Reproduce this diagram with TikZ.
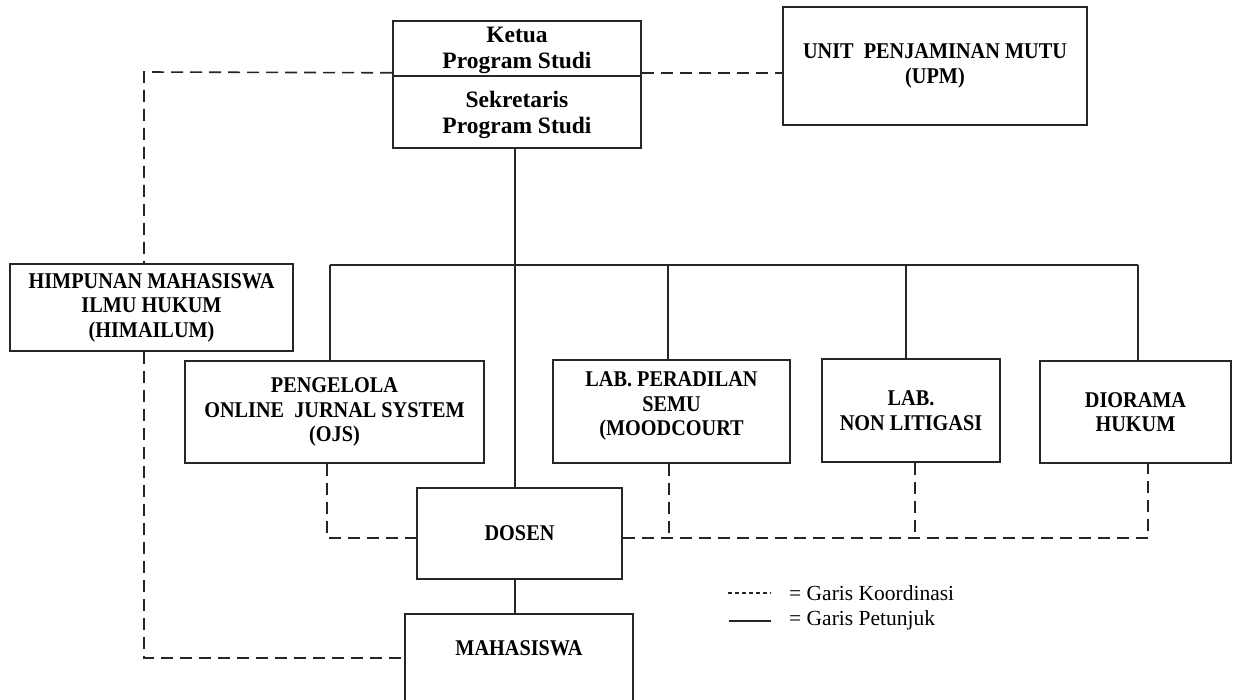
\documentclass[tikz,border=0pt]{standalone}
\usepackage{fontspec}
\setmainfont{Liberation Serif}
\newfontfamily\capsfont[FakeStretch=0.9]{Liberation Serif}
\usetikzlibrary{calc}
\tikzset{
  box/.style={draw=black!85, line width=1.6pt, fill=white, align=center, inner sep=0pt,
    font=\capsfont\bfseries\fontsize{22.5}{24.5}\selectfont},
  titletxt/.style={align=center, inner sep=0pt, font=\bfseries\fontsize{23.5}{26}\selectfont},
  conn/.style={draw=black!85, line width=1.6pt},
  coordline/.style={conn, dash pattern=on 12pt off 7pt},
  legendtxt/.style={font=\fontsize{21.5}{24}\selectfont, inner sep=0pt, anchor=west},
}
\begin{document}
\begin{tikzpicture}[x=1pt,y=-1pt]
\useasboundingbox (0,0) rectangle (1235,700);
\clip (0,0) rectangle (1235,700);
\fill[white] (0,0) rectangle (1235,700);

% nodes
\node[box, minimum width=248, minimum height=55] (ketua) at (517,48.5) {};
\node[box, minimum width=248, minimum height=72] (sekre) at (517,112) {};
\node[titletxt, anchor=base] (ketuatxt) at (517,69) {Ketua\\Program Studi};
\node[titletxt, anchor=base] (sekretxt) at (517,134) {Sekretaris\\Program Studi};
\node[box, minimum width=304, minimum height=118] (upm) at (935,66) {UNIT~ PENJAMINAN MUTU\\(UPM)};
\node[box, minimum width=283, minimum height=87] (hima) at (151.5,307.5) {HIMPUNAN MAHASISWA\\ILMU HUKUM\\(HIMAILUM)};
\node[box, minimum width=299, minimum height=102] (ojs) at (334.5,412) {PENGELOLA\\ONLINE~ JURNAL SYSTEM\\(OJS)};
\node[box, minimum width=237, minimum height=103] (peradilan) at (671.5,411.5) {};
\node[box, draw=none, fill=none] (peradilantxt) at (671.5,406) {LAB. PERADILAN\\SEMU\\(MOODCOURT};
\node[box, minimum width=178, minimum height=103] (nonlit) at (911,410.5) {LAB.\\NON LITIGASI};
\node[box, minimum width=191, minimum height=102] (diorama) at (1135.5,412) {DIORAMA\\HUKUM};
\node[box, minimum width=205, minimum height=91] (dosen) at (519.5,533.5) {DOSEN};
\node[box, minimum width=228, minimum height=100, anchor=north] (maha) at (519,613) {};
\node[box, draw=none, fill=none] (mahatxt) at (519,648) {MAHASISWA};

% coordinates
\coordinate (busL) at (330,265);
\coordinate (busR) at (1138,265);
\coordinate (dropA) at (668,265);
\coordinate (dropB) at (906,265);
\coordinate (c1) at (144,72);
\coordinate (c2) at (144,658);
\coordinate (d1) at (327,538);
\coordinate (d2) at (1148,538);
\coordinate (d3) at (669,538);
\coordinate (d4) at (915,538);

% solid lines
\draw[conn] (sekre.south -| 515,0) -- (dosen.north -| 515,0);
\draw[conn] (busL) -- (busR);
\draw[conn] (busL) -- (busL |- ojs.north);
\draw[conn] (dropA) -- (dropA |- peradilan.north);
\draw[conn] (dropB) -- (dropB |- nonlit.north);
\draw[conn] (busR) -- (busR |- diorama.north);
\draw[conn] (dosen.south -| 515,0) -- (maha.north -| 515,0);

% dashed lines
\draw[coordline] ([yshift=4pt]ketua.south east) -- ([yshift=4pt]ketua.south east -| upm.west);
\draw[coordline] ([yshift=4pt]ketua.south west) -- (c1) -- (c1 |- hima.north);
\draw[coordline] (c1 |- hima.south) -- (c2) -- (c2 -| maha.west);
\draw[coordline] (d1 |- ojs.south) -- (d1) -- (d1 -| dosen.west);
\draw[coordline] (d2 -| dosen.east) -- (d2) -- (d2 |- diorama.south);
\draw[coordline] (d3 |- peradilan.south) -- (d3);
\draw[coordline] (d4 |- nonlit.south) -- (d4);

% legend
\coordinate (l1a) at (728,593);
\coordinate (l1b) at (771,593);
\coordinate (l2a) at (729,621);
\coordinate (l2b) at (771,621);
\draw[conn, line width=1.3pt, dash pattern=on 4pt off 3pt] (l1a) -- (l1b);
\draw[conn, line width=1.6pt] (l2a) -- (l2b);
\node[legendtxt] (lg1) at (789,593) {= Garis Koordinasi};
\node[legendtxt] (lg2) at (789,620) {= Garis Petunjuk};
\end{tikzpicture}
\end{document}
